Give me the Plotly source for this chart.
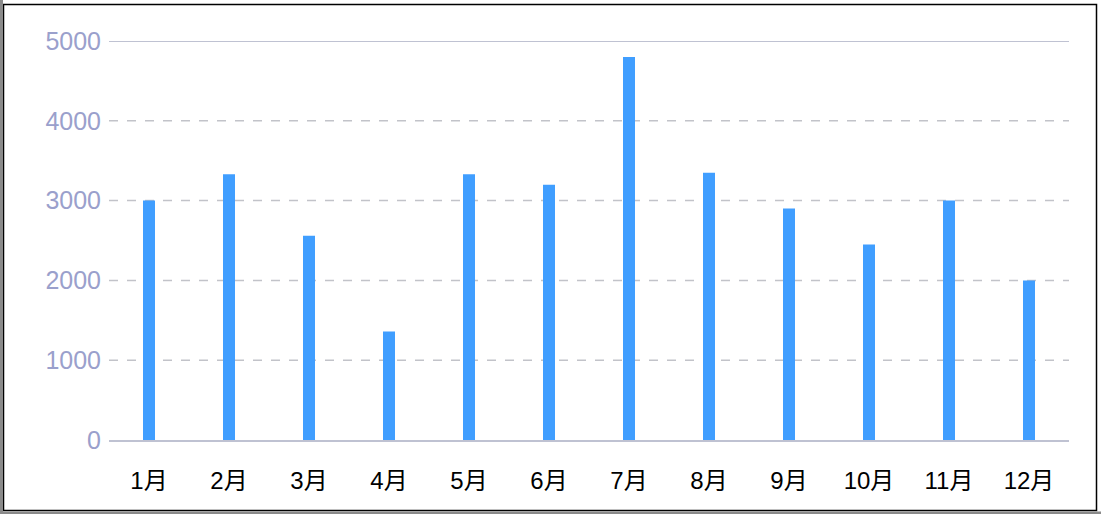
import plotly.graph_objects as go

months = ["1月", "2月", "3月", "4月", "5月", "6月", "7月", "8月", "9月", "10月", "11月", "12月"]
sales = [3000, 3330, 2560, 1360, 3330, 3200, 4800, 3350, 2900, 2450, 3000, 2000]
y_ticks = [0, 1000, 2000, 3000, 4000, 5000]

W, H = 1101, 514
ML, MR, MT, MB = 109, 32, 41, 74
PW, PH = W - ML - MR, H - MT - MB


def px_x(p):
    # pixel -> paper x
    return (p - ML) / PW


def px_y(p):
    # pixel -> paper y
    return (H - MB - p) / PH


fig = go.Figure()

fig.add_trace(go.Bar(x=months, y=sales, marker_color="#409EFF", marker_line_width=0))

# dashed grid lines (5000 is a solid axis-colored line)
for t in y_ticks[1:-1]:
    fig.add_shape(type="line", xref="paper", yref="y", x0=0, x1=1, y0=t, y1=t,
                  line=dict(color="#c2c3c9", width=1.5, dash="dash"), layer="below")
fig.add_shape(type="line", xref="paper", yref="y", x0=0, x1=1, y0=y_ticks[-1], y1=y_ticks[-1],
              line=dict(color="#bfc2d2", width=2), layer="below")

# frame around the page
fig.add_shape(type="rect", xref="paper", yref="paper",
              x0=px_x(3.5), x1=px_x(1096.5), y0=px_y(510.5), y1=px_y(4.5),
              line=dict(color="black", width=1.5))
fig.add_shape(type="rect", xref="paper", yref="paper",
              x0=px_x(0), x1=px_x(3), y0=px_y(514), y1=px_y(0),
              fillcolor="#8a8a8a", line_width=0)
fig.add_shape(type="rect", xref="paper", yref="paper",
              x0=px_x(0), x1=px_x(1101), y0=px_y(514), y1=px_y(511.5),
              fillcolor="#8a8a8a", line_width=0)

fig.update_layout(
    width=W, height=H,
    margin=dict(l=ML, r=MR, t=MT, b=MB),
    plot_bgcolor="white",
    paper_bgcolor="white",
    bargap=0.85,
    showlegend=False,
    font=dict(family="Liberation Sans, Arial, sans-serif"),
    xaxis=dict(
        showgrid=False,
        showline=True, linecolor="#bfc2d2", linewidth=2,
        ticks="", ticklabelstandoff=18,
        tickfont=dict(size=24, color="black", family="Liberation Sans, Noto Sans CJK SC"),
        fixedrange=True,
    ),
    yaxis=dict(
        range=[0, 5000],
        tickvals=y_ticks,
        showgrid=False, zeroline=False, showline=False,
        ticks="", ticklabelstandoff=7,
        tickfont=dict(size=25, color="#9aa0cc"),
        fixedrange=True,
    ),
)

fig.write_html("out.html", config={"displayModeBar": False},
               post_script="document.body.style.margin='0';")
